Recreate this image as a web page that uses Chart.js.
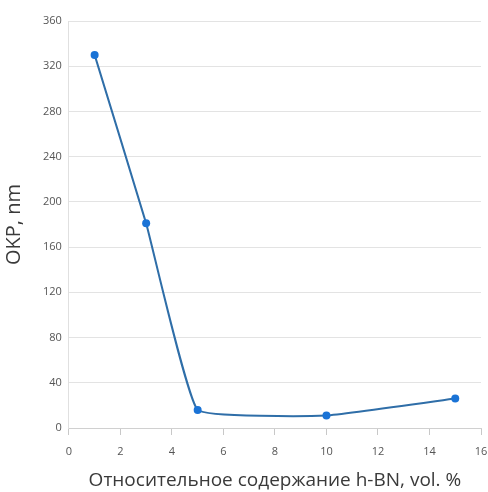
<!DOCTYPE html>
<html lang="ru">
<head>
    <meta charset="UTF-8">
    <title>OKP vs h-BN</title>
    <script src="https://cdn.jsdelivr.net/npm/chart.js"></script>
    <style>
        body {
            margin: 0;
            padding: 0;
            background: white;
        }
        .chart-box {
            width: 488px;
            height: 492px;
        }
    </style>
</head>
<body>
    <div class="chart-box">
        <canvas id="okpChart"></canvas>
    </div>

    <script>
        // Data
        const contentHBN = [1, 3, 5, 10, 15];
        const okpValues = [330, 181, 16, 11, 26];
        const xTicks = [0, 2, 4, 6, 8, 10, 12, 14, 16];
        const yTicks = [0, 40, 80, 120, 160, 200, 240, 280, 320, 360];

        const points = contentHBN.map((x, i) => ({ x: x, y: okpValues[i] }));

        const ctx = document.getElementById('okpChart').getContext('2d');
        new Chart(ctx, {
            type: 'line',
            data: {
                datasets: [{
                    label: 'OKP',
                    data: points,
                    borderColor: '#2f6ea8',
                    backgroundColor: '#1a73d6',
                    borderWidth: 2,
                    pointRadius: 4,
                    pointBorderWidth: 0,
                    pointBackgroundColor: '#1a73d6',
                    tension: 0.1,
                    fill: false
                }]
            },
            options: {
                responsive: true,
                maintainAspectRatio: false,
                animation: false,
                layout: {
                    padding: { left: 2, right: 0, top: 21, bottom: 0 }
                },
                plugins: {
                    legend: { display: false },
                    tooltip: { enabled: false }
                },
                scales: {
                    x: {
                        type: 'linear',
                        min: 0,
                        max: 16,
                        afterBuildTicks: axis => {
                            axis.ticks = xTicks.map(v => ({ value: v }));
                        },
                        // keep only room for half of the "16" label on the right
                        afterFit: axis => {
                            axis.paddingRight = 7;
                        },
                        grid: {
                            drawOnChartArea: false,
                            tickLength: 7,
                            tickColor: '#c8c8c8'
                        },
                        border: { color: '#d0d0d0' },
                        ticks: {
                            color: '#555555',
                            font: { family: 'Open Sans', size: 11 },
                            padding: 10,
                            maxRotation: 0
                        },
                        title: {
                            display: true,
                            text: 'Относительное содержание h-BN, vol. %',
                            color: '#3a3a3a',
                            font: { family: 'Open Sans', size: 19 },
                            padding: { top: 1, bottom: 0 }
                        }
                    },
                    y: {
                        min: 0,
                        max: 360,
                        afterBuildTicks: axis => {
                            axis.ticks = yTicks.map(v => ({ value: v }));
                        },
                        grid: {
                            color: '#e3e3e3',
                            lineWidth: 1,
                            drawTicks: false
                        },
                        border: { color: '#e0e0e0' },
                        ticks: {
                            color: '#555555',
                            font: { family: 'Open Sans', size: 11 },
                            padding: 7
                        },
                        title: {
                            display: true,
                            text: 'OKP, nm',
                            color: '#3a3a3a',
                            font: { family: 'Open Sans', size: 20 },
                            padding: { top: 0, bottom: 10 }
                        }
                    }
                }
            }
        });
    </script>
</body>
</html>
